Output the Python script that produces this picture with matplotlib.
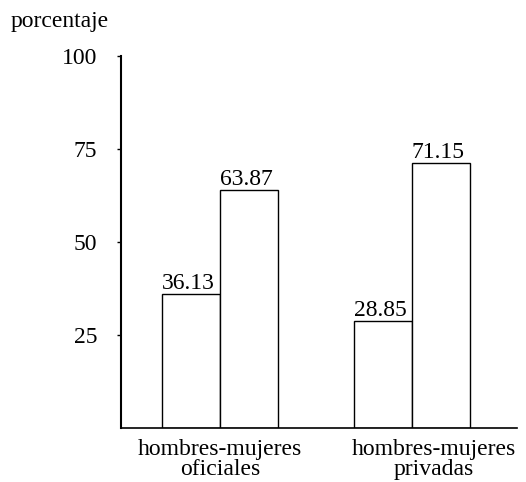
import matplotlib.pyplot as plt
from matplotlib.transforms import ScaledTranslation

groups = ["hombres-mujeres\noficiales", "hombres-mujeres\nprivadas"]
hombres = [36.13, 28.85]
mujeres = [63.87, 71.15]
yticks = [25, 50, 75, 100]

plt.rcParams["font.family"] = ["Liberation Serif", "DejaVu Serif"]

fig = plt.figure(figsize=(5.26, 4.82), dpi=100)
ax = fig.add_axes([0.230, 0.112, 0.753, 0.772])

w = 0.30
x = range(len(groups))
xh = [i - w / 2 for i in x]
xm = [i + w / 2 for i in x]
b1 = ax.bar(xh, hombres, width=w, facecolor="white", edgecolor="black", linewidth=1.0)
b2 = ax.bar(xm, mujeres, width=w, facecolor="white", edgecolor="black", linewidth=1.0)

for bars, vals in [(b1, hombres), (b2, mujeres)]:
    for rect, v in zip(bars, vals):
        ax.annotate(f"{v:.2f}", (rect.get_x() + rect.get_width() / 2, v),
                    xytext=(-2, 0), textcoords="offset points",
                    ha="center", va="bottom", fontsize=17)

ax.set_xlim(-0.516, 1.547)
ax.set_ylim(0, 100)
ax.set_yticks(yticks)
ax.set_yticklabels([str(t) for t in yticks], fontsize=17)
ax.tick_params(axis="y", direction="out", length=3, width=1, pad=14)
ax.set_xticks(list(x))
ax.set_xticklabels(groups, fontsize=17, linespacing=0.95)
ax.tick_params(axis="x", length=0, pad=8)
lbl = ax.get_xticklabels()[1]
lbl.set_transform(lbl.get_transform() + ScaledTranslation(0.22, 0, fig.dpi_scale_trans))

for s in ["top", "right"]:
    ax.spines[s].set_visible(False)
ax.spines["left"].set_linewidth(1.5)
ax.spines["bottom"].set_linewidth(1.2)

fig.text(0.02, 0.955, "porcentaje", fontsize=17, ha="left", va="center")

fig.savefig("out.png", dpi=100)
